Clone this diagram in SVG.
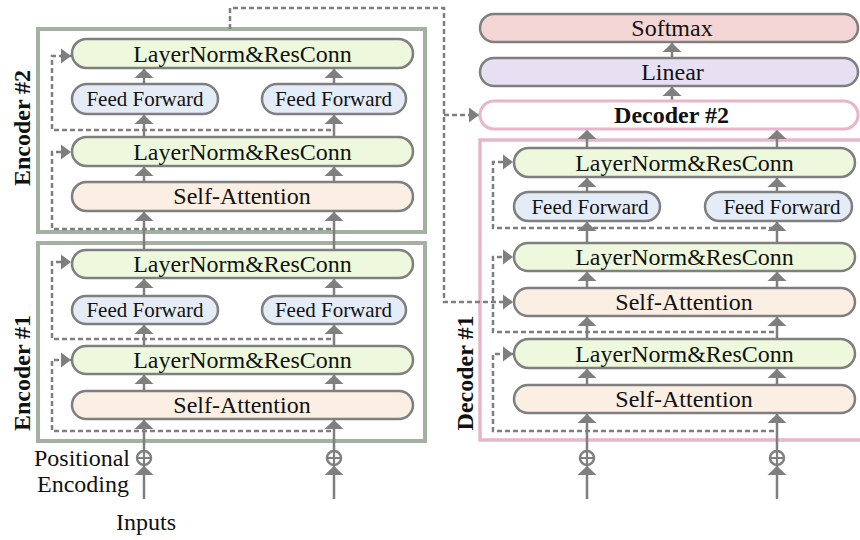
<svg xmlns="http://www.w3.org/2000/svg" width="860" height="540" viewBox="0 0 860 540">
<defs>
<style>
.box{stroke:#7f7f7f;stroke-width:2.5}
.ln{fill:#eef8dc}
.ff{fill:#e4ecf8}
.sa{fill:#fbeee2}
.sm{fill:#f4d5d5}
.li{fill:#e7dff2}
.frameE{fill:none;stroke:#a2b1a0;stroke-width:4}
.frameD{fill:none;stroke:#e8b6ca;stroke-width:3.5}
text{font-family:'Liberation Serif',serif;font-size:24px;fill:#111}
.f{font-size:21px}
.t{text-anchor:middle}
.b{font-weight:bold}
.sol{fill:none;stroke:#7f7f7f;stroke-width:2.5;marker-end:url(#up)}
.dash{fill:none;stroke:#7f7f7f;stroke-width:2.5;stroke-dasharray:5 3;marker-end:url(#rt)}
.circ{fill:#fff;stroke:#7f7f7f;stroke-width:2.5}
</style>
<marker id="up" viewBox="0 -10 9 20" refX="9" refY="0" markerWidth="9" markerHeight="20" markerUnits="userSpaceOnUse" orient="auto">
<path d="M0,-9.5 L9,0 L0,9.5 Z" fill="#7f7f7f"/>
</marker>
<marker id="rt" viewBox="0 -8 10 16" refX="10" refY="0" markerWidth="10" markerHeight="16" markerUnits="userSpaceOnUse" orient="auto">
<path d="M0,-7.5 L10,0 L0,7.5 Z" fill="#7f7f7f"/>
</marker>
</defs>
<rect width="860" height="540" fill="#fff"/>

<g id="encoder2">
<rect class="frameE" x="38" y="29" width="387" height="203"/>
<text class="t b" transform="translate(30,128) rotate(-90)">Encoder #2</text>
</g>
<g id="encoder1">
<rect class="frameE" x="38" y="243" width="387" height="198"/>
<text class="t b" transform="translate(30,373) rotate(-90)">Encoder #1</text>
</g>
<g id="decoder1">
<rect class="frameD" x="480" y="140" width="400" height="300"/>
<text class="t b" transform="translate(473,373) rotate(-90)">Decoder #1</text>
</g>

<g id="connectors">
<path class="sol" d="M144,499 V466"/><path class="sol" d="M334,499 V466"/>
<path class="sol" d="M144,451 V420"/><path class="sol" d="M334,451 V420"/>
<path class="sol" d="M144,391 V375"/><path class="sol" d="M334,391 V375"/>
<path class="sol" d="M144,346 V325"/><path class="sol" d="M334,346 V325"/>
<path class="sol" d="M144,296 V279"/><path class="sol" d="M334,296 V279"/>
<path class="sol" d="M144,250 V212"/><path class="sol" d="M334,250 V212"/>
<path class="sol" d="M144,182 V167"/><path class="sol" d="M334,182 V167"/>
<path class="sol" d="M144,137 V115"/><path class="sol" d="M334,137 V115"/>
<path class="sol" d="M144,84 V69"/><path class="sol" d="M334,84 V69"/>

<path class="sol" d="M587,499 V466"/><path class="sol" d="M777,499 V466"/>
<path class="sol" d="M587,451 V414"/><path class="sol" d="M777,451 V414"/>
<path class="sol" d="M587,385 V369"/><path class="sol" d="M777,385 V369"/>
<path class="sol" d="M587,339 V317"/><path class="sol" d="M777,339 V317"/>
<path class="sol" d="M587,288 V272"/><path class="sol" d="M777,288 V272"/>
<path class="sol" d="M587,243 V222"/><path class="sol" d="M777,243 V222"/>
<path class="sol" d="M587,192 V178"/><path class="sol" d="M777,192 V178"/>
<path class="sol" d="M587,148 V130"/><path class="sol" d="M777,148 V130"/>
<path class="sol" d="M672,101 V87"/>
<path class="sol" d="M672,58 V43"/>

<path class="dash" d="M331,229 H52 V152 H71"/>
<path class="dash" d="M331,130 H52 V56 H71"/>
<path class="dash" d="M331,431 H52 V360 H71"/>
<path class="dash" d="M331,339 H52 V262 H71"/>

<path class="dash" d="M774,431 H493 V354 H513"/>
<path class="dash" d="M774,332 H493 V257 H513"/>
<path class="dash" d="M774,228 H493 V162 H513"/>

<path class="dash" d="M230,29 V8 H444 V302 H513"/>
<path class="dash" d="M444,115 H479"/>
</g>

<g id="adders" fill="none" stroke="#7f7f7f" stroke-width="2.2">
<circle class="circ" cx="144" cy="458" r="7"/><path d="M138,458 H150 M144,452 V464"/>
<circle class="circ" cx="334" cy="458" r="7"/><path d="M328,458 H340 M334,452 V464"/>
<circle class="circ" cx="587" cy="458" r="7"/><path d="M581,458 H593 M587,452 V464"/>
<circle class="circ" cx="777" cy="458" r="7"/><path d="M771,458 H783 M777,452 V464"/>
</g>

<g id="e2_ln2"><rect class="box ln" x="72" y="39" width="341" height="29" rx="14.5"/><text class="t" x="242.5" y="62">LayerNorm&amp;ResConn</text></g>
<g id="e2_ff1"><rect class="box ff" x="72" y="84" width="146" height="30" rx="15"/><text class="t f" x="145" y="106">Feed Forward</text></g>
<g id="e2_ff2"><rect class="box ff" x="262" y="84" width="144" height="30" rx="15"/><text class="t f" x="333.5" y="106">Feed Forward</text></g>
<g id="e2_ln1"><rect class="box ln" x="72" y="137" width="341" height="29" rx="14.5"/><text class="t" x="242.5" y="160">LayerNorm&amp;ResConn</text></g>
<g id="e2_sa"><rect class="box sa" x="72" y="182" width="341" height="29" rx="14.5"/><text class="t" x="242" y="204">Self-Attention</text></g>

<g id="e1_ln2"><rect class="box ln" x="72" y="250" width="341" height="28" rx="14"/><text class="t" x="242.5" y="272">LayerNorm&amp;ResConn</text></g>
<g id="e1_ff1"><rect class="box ff" x="72" y="296" width="146" height="28" rx="14"/><text class="t f" x="145" y="317">Feed Forward</text></g>
<g id="e1_ff2"><rect class="box ff" x="262" y="296" width="144" height="28" rx="14"/><text class="t f" x="333.5" y="317">Feed Forward</text></g>
<g id="e1_ln1"><rect class="box ln" x="72" y="346" width="341" height="28" rx="14"/><text class="t" x="242.5" y="368">LayerNorm&amp;ResConn</text></g>
<g id="e1_sa"><rect class="box sa" x="72" y="391" width="341" height="28" rx="14"/><text class="t" x="242" y="413">Self-Attention</text></g>

<g id="softmax"><rect class="box sm" x="480" y="14" width="378" height="28" rx="14"/><text class="t" x="672" y="36">Softmax</text></g>
<g id="linear"><rect class="box li" x="480" y="58" width="378" height="28" rx="14"/><text class="t" x="672.5" y="80">Linear</text></g>
<g id="decoder2"><rect x="480" y="101" width="378" height="28" rx="14" fill="#fff" stroke="#e8b6ca" stroke-width="3"/><text class="t b" x="671.5" y="123">Decoder #2</text></g>
<g id="d_ln3"><rect class="box ln" x="514" y="148" width="341" height="29" rx="14.5"/><text class="t" x="684.5" y="171">LayerNorm&amp;ResConn</text></g>
<g id="d_ff1"><rect class="box ff" x="514" y="192" width="146" height="29" rx="14.5"/><text class="t f" x="590" y="214">Feed Forward</text></g>
<g id="d_ff2"><rect class="box ff" x="705" y="192" width="147" height="29" rx="14.5"/><text class="t f" x="782" y="214">Feed Forward</text></g>
<g id="d_ln2"><rect class="box ln" x="514" y="243" width="341" height="28" rx="14"/><text class="t" x="684.5" y="265">LayerNorm&amp;ResConn</text></g>
<g id="d_sa2"><rect class="box sa" x="514" y="288" width="341" height="28" rx="14"/><text class="t" x="684" y="310">Self-Attention</text></g>
<g id="d_ln1"><rect class="box ln" x="514" y="339" width="341" height="29" rx="14.5"/><text class="t" x="684.5" y="362">LayerNorm&amp;ResConn</text></g>
<g id="d_sa1"><rect class="box sa" x="514" y="385" width="341" height="28" rx="14"/><text class="t" x="684" y="407">Self-Attention</text></g>

<g id="labels">
<text x="130" y="466" text-anchor="end">Positional</text>
<text x="129" y="492" text-anchor="end">Encoding</text>
<text class="t" x="146" y="530">Inputs</text>
</g>
</svg>
